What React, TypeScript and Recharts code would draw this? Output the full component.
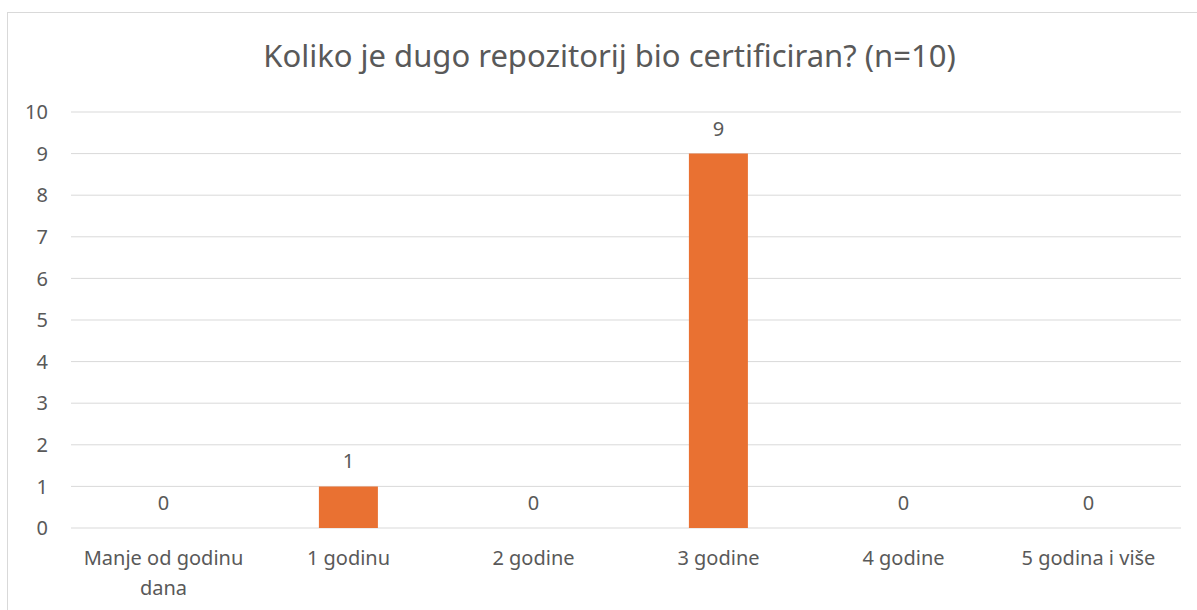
import { ComposedChart, Bar, Line, XAxis, YAxis, CartesianGrid, LabelList } from 'recharts'

// chart data
const categories = ['Manje od godinu dana', '1 godinu', '2 godine', '3 godine', '4 godine', '5 godina i više']
const counts = [0, 1, 0, 9, 0, 0]
const yTicks = [0, 1, 2, 3, 4, 5, 6, 7, 8, 9, 10]
const title = 'Koliko je dugo repozitorij bio certificiran? (n=10)'

const data = categories.map((name, i) => ({ name, value: counts[i] }))

const FONT = '"Noto Sans", sans-serif'
const TEXT_COLOR = '#595959'
const GRID_COLOR = '#D9D9D9'
const BAR_COLOR = '#E97132'

// greedy word wrap by character count
const wrap = (label: string, maxChars: number) => {
  const lines: string[] = []
  let cur = ''
  label.split(' ').forEach((w) => {
    const next = cur ? cur + ' ' + w : w
    if (next.length > maxChars && cur) {
      lines.push(cur)
      cur = w
    } else {
      cur = next
    }
  })
  if (cur) lines.push(cur)
  return lines
}

const CategoryTick = ({ x, y, payload }: any) => (
  <text
    x={x}
    y={y + 35}
    textAnchor="middle"
    fill={TEXT_COLOR}
    fontSize={20}
    fontFamily={FONT}
  >
    {wrap(payload.value, 16).map((line, i) => (
      <tspan key={i} x={x} dy={i === 0 ? 0 : 30}>
        {line}
      </tspan>
    ))}
  </text>
)

export default function App() {
  return (
    <div
      style={{
        position: 'fixed',
        left: 0,
        top: 0,
        width: 1197,
        height: 610,
        overflow: 'hidden',
        background: '#fff',
        fontFamily: FONT
      }}
    >
      {/* chart frame */}
      <div
        style={{
          position: 'absolute',
          left: 7,
          top: 12,
          width: 1300,
          height: 700,
          border: '1px solid #D9D9D9'
        }}
      />
      <div
        style={{
          position: 'absolute',
          left: 0,
          top: 35,
          width: 1219,
          textAlign: 'center',
          fontSize: 31,
          color: TEXT_COLOR,
          lineHeight: '40px',
          whiteSpace: 'nowrap'
        }}
      >
        {title}
      </div>
      <div style={{ position: 'absolute', left: 0, top: 0 }}>
        <ComposedChart
          width={1197}
          height={610}
          data={data}
          margin={{ top: 112, right: 16, left: 0, bottom: 52 }}
          barCategoryGap="34%"
        >
          <CartesianGrid stroke={GRID_COLOR} vertical={false} />
          <XAxis
            dataKey="name"
            height={30}
            axisLine={false}
            tickLine={false}
            tickSize={0}
            interval={0}
            tick={<CategoryTick />}
          />
          <YAxis
            width={71}
            domain={[0, 10]}
            ticks={yTicks}
            axisLine={false}
            tickLine={false}
            tickSize={0}
            tickMargin={23}
            tick={{ fill: TEXT_COLOR, fontSize: 20, fontFamily: FONT }}
          />
          <Bar dataKey="value" fill={BAR_COLOR} isAnimationActive={false} />
          {/* invisible series used only to place value labels (incl. zeros) */}
          <Line
            dataKey="value"
            stroke="none"
            dot={false}
            activeDot={false}
            legendType="none"
            isAnimationActive={false}
          >
            <LabelList
              dataKey="value"
              position="top"
              offset={18}
              fill={TEXT_COLOR}
              fontSize={20}
              fontFamily={FONT}
            />
          </Line>
        </ComposedChart>
      </div>
    </div>
  )
}
